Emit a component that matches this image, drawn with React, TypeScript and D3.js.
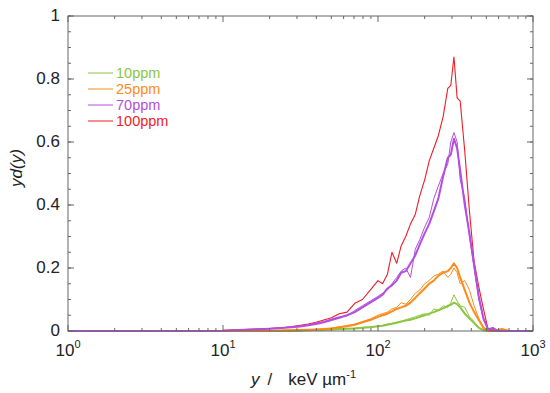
import React from "react"
import * as d3 from "d3"

// lineal energy grid, keV/um
const yGrid = [1, 10, 12.6, 15.8, 20, 25.1, 31.6, 35.5, 39.8, 44.7, 50.1, 56.2, 63.1, 70.8, 79.4, 89.1,
  100, 107, 115, 123, 132, 141, 151, 162, 174, 186, 200, 214, 229, 245, 263, 282, 295, 309, 324,
  339, 363, 389, 417, 447, 479, 513, 550, 589, 631, 708, 1000]

const red100 = [0, 0.002, 0.004, 0.006, 0.008, 0.011, 0.018, 0.022, 0.028, 0.035, 0.042, 0.055, 0.06, 0.088, 0.1, 0.13,
  0.16, 0.15, 0.18, 0.25, 0.215, 0.27, 0.3, 0.34, 0.37, 0.43, 0.48, 0.54, 0.58, 0.62, 0.68, 0.77, 0.78, 0.87, 0.74,
  0.73, 0.57, 0.38, 0.22, 0.14, 0.07, 0.005, 0, 0, 0, 0, 0]

const purpleThick = [0, 0.001, 0.003, 0.005, 0.007, 0.01, 0.014, 0.018, 0.022, 0.028, 0.035, 0.042, 0.05, 0.06, 0.075, 0.09,
  0.105, 0.115, 0.135, 0.145, 0.16, 0.185, 0.19, 0.215, 0.24, 0.275, 0.31, 0.34, 0.38, 0.42, 0.49, 0.55, 0.56, 0.61, 0.58,
  0.51, 0.4, 0.31, 0.21, 0.11, 0.04, 0.005, 0.01, 0, 0, 0, 0]
const purpleThin = [0, 0.001, 0.003, 0.005, 0.008, 0.011, 0.016, 0.02, 0.025, 0.03, 0.038, 0.045, 0.048, 0.065, 0.08, 0.095,
  0.11, 0.12, 0.13, 0.15, 0.17, 0.19, 0.2, 0.17, 0.26, 0.29, 0.33, 0.36, 0.42, 0.46, 0.5, 0.53, 0.6, 0.63, 0.6,
  0.48, 0.42, 0.3, 0.2, 0.1, 0.035, 0.008, 0.004, 0, 0, 0, 0]

const orangeThick = [0, 0, 0, 0, 0.001, 0.002, 0.003, 0.004, 0.005, 0.006, 0.008, 0.012, 0.015, 0.02, 0.028, 0.035,
  0.045, 0.05, 0.055, 0.062, 0.07, 0.075, 0.08, 0.09, 0.105, 0.12, 0.135, 0.15, 0.16, 0.175, 0.185, 0.19, 0.2, 0.215, 0.2,
  0.17, 0.13, 0.09, 0.06, 0.035, 0.01, 0, 0.005, 0.003, 0.005, 0, 0]
const orangeThin = [0, 0, 0, 0, 0.001, 0.002, 0.003, 0.004, 0.005, 0.007, 0.009, 0.013, 0.017, 0.022, 0.03, 0.038,
  0.05, 0.055, 0.06, 0.07, 0.075, 0.09, 0.085, 0.1, 0.12, 0.13, 0.15, 0.16, 0.175, 0.18, 0.19, 0.17, 0.18, 0.2, 0.185,
  0.15, 0.16, 0.13, 0.08, 0.04, 0.01, 0.005, 0.01, 0.003, 0.008, 0, 0]

const greenThick = [0, 0, 0, 0, 0, 0, 0.001, 0.002, 0.003, 0.004, 0.005, 0.006, 0.007, 0.008, 0.01, 0.012,
  0.015, 0.017, 0.02, 0.023, 0.026, 0.03, 0.033, 0.036, 0.04, 0.045, 0.05, 0.055, 0.06, 0.066, 0.072, 0.08, 0.083, 0.09, 0.085,
  0.075, 0.055, 0.04, 0.025, 0.01, 0.003, 0, 0, 0, 0, 0, 0]
const greenThin = [0, 0, 0, 0, 0, 0, 0.001, 0.002, 0.003, 0.004, 0.005, 0.006, 0.008, 0.009, 0.011, 0.013,
  0.015, 0.018, 0.022, 0.024, 0.028, 0.03, 0.036, 0.04, 0.045, 0.05, 0.055, 0.05, 0.07, 0.065, 0.08, 0.075, 0.09, 0.115, 0.095,
  0.08, 0.075, 0.045, 0.03, 0.012, 0.003, 0, 0, 0, 0, 0, 0]

const legendLabels = ["10ppm", "25ppm", "70ppm", "100ppm"]
const colors = ["#8cc63e", "#ff8a1c", "#b44ee0", "#ee1c25"]
const yTickLabels = ["0", "0.2", "0.4", "0.6", "0.8", "1"]

const W = 550, H = 393
const m = { left: 68, top: 16, right: 17, bottom: 62 }
const axisColor = "#666"
const font = "Liberation Sans, Arial, sans-serif"

export default function App() {
  const x = d3.scaleLog().domain([1, 1000]).range([m.left, W - m.right])
  const y = d3.scaleLinear().domain([0, 1]).range([H - m.bottom, m.top])
  const line = (vals: number[]) =>
    d3.line<number>().x((_, i) => x(yGrid[i])).y(d => y(d))(vals) || ""

  const series = [
    { v: greenThin, c: colors[0], w: 1 },
    { v: greenThick, c: colors[0], w: 2 },
    { v: orangeThin, c: colors[1], w: 1 },
    { v: orangeThick, c: colors[1], w: 2 },
    { v: red100, c: colors[3], w: 1.1 },
    { v: purpleThin, c: colors[2], w: 1 },
    { v: purpleThick, c: colors[2], w: 2 },
  ]

  const majorX = [1, 10, 100, 1000]
  const minorX: number[] = []
  for (const dec of [1, 10, 100]) for (let k = 2; k <= 9; k++) minorX.push(dec * k)
  const majorY = d3.range(0, 1.001, 0.2)
  const minorY = d3.range(0, 1.001, 0.05)

  const x0 = m.left, x1 = W - m.right, y0 = H - m.bottom, y1 = m.top

  return (
    <svg width={W} height={H} style={{ position: "absolute", left: 0, top: 0, background: "#fff" }} fontFamily={font}>
      <rect x={0} y={0} width={W} height={H} fill="#fff" />
      <g>
        {series.map((s, i) => (
          <path key={i} d={line(s.v)} fill="none" stroke={s.c} strokeWidth={s.w} strokeLinejoin="round" />
        ))}
      </g>
      {/* frame */}
      <rect x={x0} y={y1} width={x1 - x0} height={y0 - y1} fill="none" stroke={axisColor} strokeWidth={1} />
      {/* x ticks */}
      {minorX.map(t => (
        <g key={"mx" + t}>
          <line x1={x(t)} x2={x(t)} y1={y0} y2={y0 - 3} stroke={axisColor} />
          <line x1={x(t)} x2={x(t)} y1={y1} y2={y1 + 3} stroke={axisColor} />
        </g>
      ))}
      {majorX.map(t => (
        <g key={"Mx" + t}>
          <line x1={x(t)} x2={x(t)} y1={y0} y2={y0 - 6} stroke={axisColor} />
          <line x1={x(t)} x2={x(t)} y1={y1} y2={y1 + 6} stroke={axisColor} />
          <text x={x(t)} y={y0 + 25} textAnchor="middle" fontSize={17} fill="#222">
            10<tspan dy={-8} fontSize={11}>{Math.round(Math.log10(t))}</tspan>
          </text>
        </g>
      ))}
      {/* y ticks */}
      {minorY.map(t => (
        <g key={"my" + t}>
          <line x1={x0} x2={x0 + 3} y1={y(t)} y2={y(t)} stroke={axisColor} />
          <line x1={x1} x2={x1 - 3} y1={y(t)} y2={y(t)} stroke={axisColor} />
        </g>
      ))}
      {majorY.map((t, i) => (
        <g key={"My" + i}>
          <line x1={x0} x2={x0 + 6} y1={y(t)} y2={y(t)} stroke={axisColor} />
          <line x1={x1} x2={x1 - 6} y1={y(t)} y2={y(t)} stroke={axisColor} />
          <text x={x0 - 8} y={y(t) + 5} textAnchor="end" fontSize={17} fill="#222">{yTickLabels[i]}</text>
        </g>
      ))}
      {/* axis titles */}
      <text x={251} y={385} fontSize={17} fill="#222">
        <tspan fontStyle="italic">y</tspan>
        <tspan dx={8}>/</tspan>
        <tspan dx={16}>keV µm</tspan>
        <tspan dy={-7} fontSize={11}>-1</tspan>
      </text>
      <text transform="translate(22,168) rotate(-90)" textAnchor="middle" fontSize={17} fill="#222" fontStyle="italic">
        yd(y)
      </text>
      {/* legend */}
      {legendLabels.map((l, i) => (
        <g key={l} transform={`translate(88,${73 + i * 16})`}>
          <line x1={0} x2={25} y1={0} y2={0} stroke={colors[i]} strokeWidth={1} />
          <text x={28} y={5} fontSize={14.5} fill={colors[i]}>{l}</text>
        </g>
      ))}
    </svg>
  )
}
